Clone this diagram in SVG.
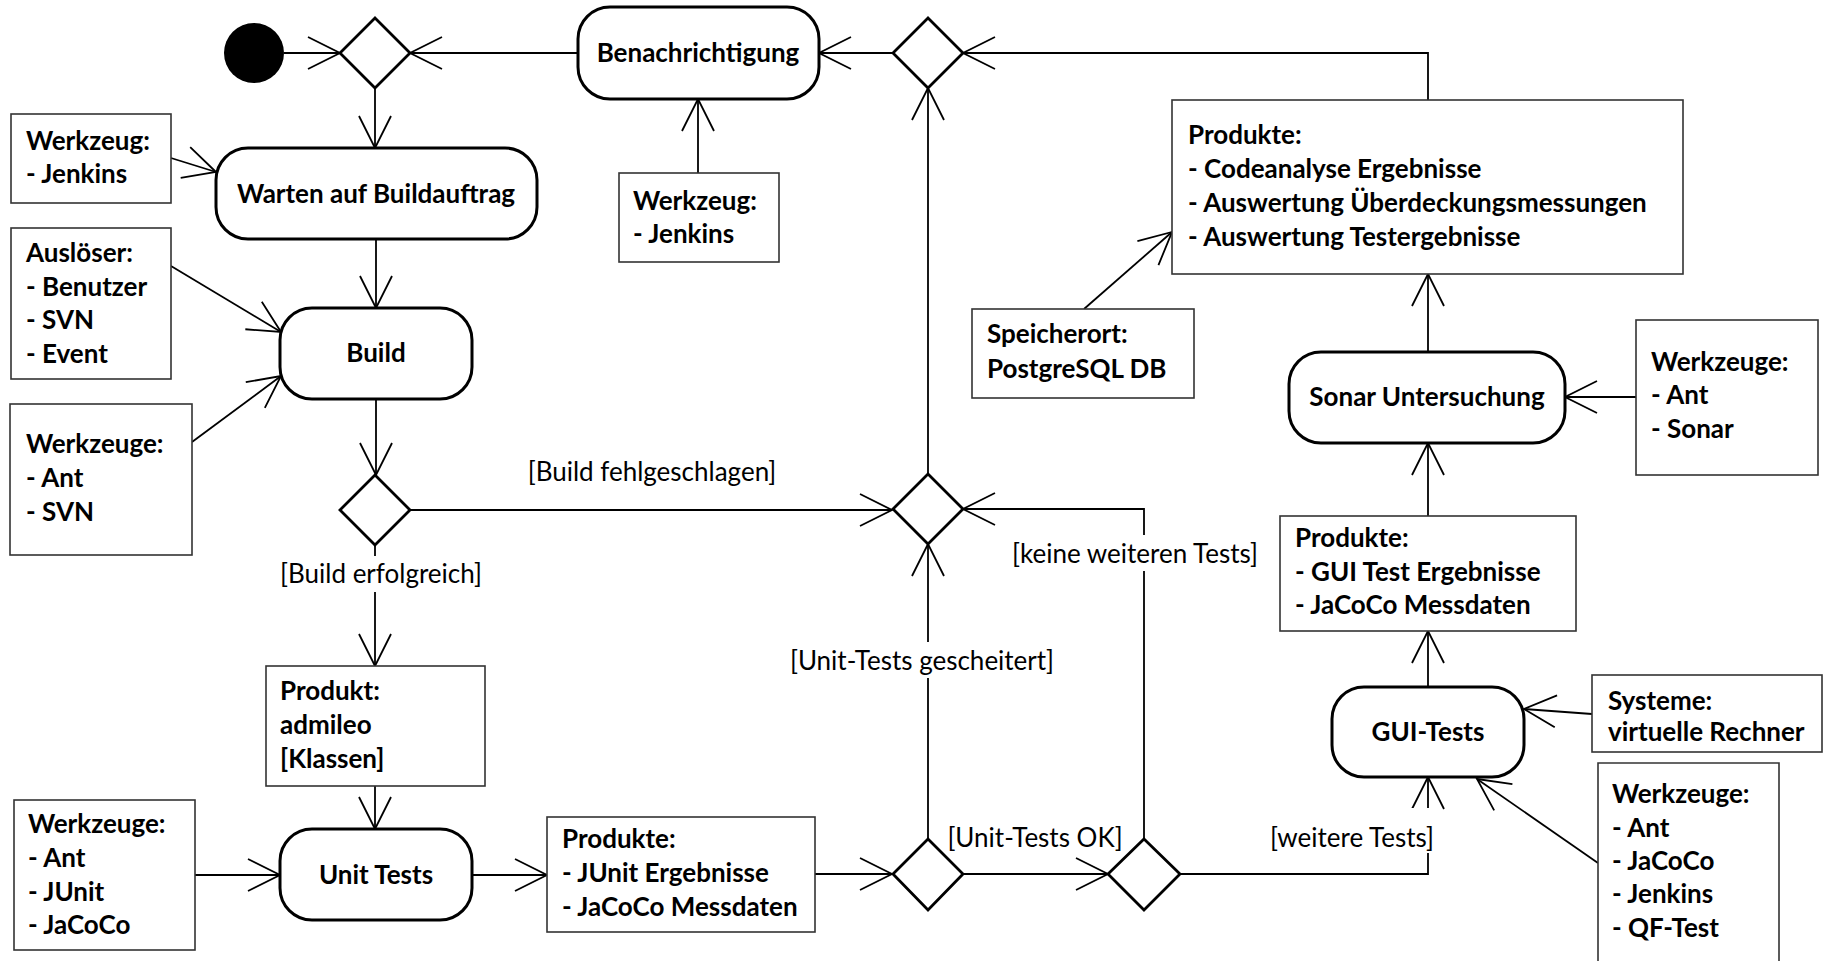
<svg xmlns="http://www.w3.org/2000/svg" width="1828" height="961" viewBox="0 0 1828 961">
  <style>
    text { font-family: Lato, "Liberation Sans", sans-serif; fill: #000; }
    .b { font-weight: bold; font-size: 26px; }
    .c { text-anchor: middle; }
    .lbl { font-size: 26px; text-anchor: middle; }
    .act { fill: #fff; stroke: #000; stroke-width: 3; }
    .note { fill: #fff; stroke: #333; stroke-width: 1.6; }
    .dec { fill: #fff; stroke: #000; stroke-width: 2.8; }
    .edge { fill: none; stroke: #000; stroke-width: 1.8; marker-end: url(#open); }
    .plain { fill: none; stroke: #000; stroke-width: 1.8; }
    .bg { fill: #fff; stroke: none; }
  </style>
  <defs>
    <marker id="open" markerUnits="userSpaceOnUse" viewBox="-36 -20 40 40" markerWidth="40" markerHeight="40" refX="0" refY="0" orient="auto" overflow="visible">
      <path d="M-32,-16 L0,0 L-32,16" fill="none" stroke="#000" stroke-width="1.8"/>
    </marker>
  </defs>

  <rect width="1828" height="961" fill="#fff"/>

  <!-- connectors -->
  <g id="connectors">
    <path class="edge" d="M284,53 L340,53"/>
    <path class="edge" d="M578,53 L410,53"/>
    <path class="edge" d="M375,88 L375,148"/>
    <path class="edge" d="M171,158 L216,172"/>
    <path class="edge" d="M376,239 L376,308"/>
    <path class="edge" d="M171,266 L281,332"/>
    <path class="edge" d="M192,442 L281,376"/>
    <path class="edge" d="M376,399 L376,475"/>
    <path class="edge" d="M375,545 L375,666"/>
    <path class="edge" d="M375,786 L375,829"/>
    <path class="edge" d="M195,875 L280,875"/>
    <path class="edge" d="M472,875 L547,875"/>
    <path class="edge" d="M815,874 L892,874"/>
    <path class="edge" d="M928,839 L928,544"/>
    <path class="edge" d="M410,510 L892,510"/>
    <path class="edge" d="M928,474 L928,88"/>
    <path class="edge" d="M892,53 L819,53"/>
    <path class="edge" d="M1428,100 L1428,53 L963,53"/>
    <path class="edge" d="M698,173 L698,99"/>
    <path class="edge" d="M1084,309 L1172,232"/>
    <path class="edge" d="M963,874 L1108,874"/>
    <path class="edge" d="M1144,839 L1144,509 L963,509"/>
    <path class="edge" d="M1180,874 L1428,874 L1428,777"/>
    <path class="edge" d="M1428,687 L1428,631"/>
    <path class="edge" d="M1428,516 L1428,443"/>
    <path class="edge" d="M1428,352 L1428,274"/>
    <path class="edge" d="M1636,397 L1565,397"/>
    <path class="edge" d="M1592,714 L1524,709"/>
    <path class="edge" d="M1598,863 L1477,779"/>

    <!-- guard labels -->
    <rect class="bg" x="278" y="556" width="208" height="36"/>
    <text class="lbl" x="381" y="583">[Build erfolgreich]</text>
    <text class="lbl" x="652" y="481">[Build fehlgeschlagen]</text>
    <rect class="bg" x="786" y="642" width="272" height="36"/>
    <text class="lbl" x="922" y="670">[Unit-Tests gescheitert]</text>
    <text class="lbl" x="1035" y="847">[Unit-Tests OK]</text>
    <rect class="bg" x="1008" y="535" width="254" height="36"/>
    <text class="lbl" x="1135" y="563">[keine weiteren Tests]</text>
    <rect class="bg" x="1266" y="808" width="172" height="45"/>
    <text class="lbl" x="1352" y="847">[weitere Tests]</text>
  </g>

  <!-- start node -->
  <g id="start">
    <circle cx="254" cy="53" r="30" fill="#000"/>
  </g>

  <!-- decision nodes -->
  <g id="decision-merge-top"><polygon class="dec" points="375,18 410,53 375,88 340,53"/></g>
  <g id="decision-notify"><polygon class="dec" points="928,18 963,53 928,88 893,53"/></g>
  <g id="decision-build"><polygon class="dec" points="375,475 410,510 375,545 340,510"/></g>
  <g id="decision-fail"><polygon class="dec" points="928,474 963,509 928,544 893,509"/></g>
  <g id="decision-unit"><polygon class="dec" points="928,839 963,874 928,910 893,874"/></g>
  <g id="decision-more"><polygon class="dec" points="1144,839 1180,874 1144,910 1108,874"/></g>

  <!-- activities -->
  <g id="benachrichtigung">
    <rect class="act" x="578" y="7" width="241" height="92" rx="32"/>
    <text class="b c" x="698" y="62">Benachrichtigung</text>
  </g>
  <g id="warten">
    <rect class="act" x="216" y="148" width="321" height="91" rx="32"/>
    <text class="b c" x="376" y="203">Warten auf Buildauftrag</text>
  </g>
  <g id="build">
    <rect class="act" x="280" y="308" width="192" height="91" rx="32"/>
    <text class="b c" x="376" y="362">Build</text>
  </g>
  <g id="unit-tests">
    <rect class="act" x="280" y="829" width="192" height="91" rx="32"/>
    <text class="b c" x="376" y="884">Unit Tests</text>
  </g>
  <g id="sonar">
    <rect class="act" x="1289" y="352" width="276" height="91" rx="32"/>
    <text class="b c" x="1427" y="406">Sonar Untersuchung</text>
  </g>
  <g id="gui-tests">
    <rect class="act" x="1332" y="687" width="192" height="90" rx="32"/>
    <text class="b c" x="1428" y="741">GUI-Tests</text>
  </g>

  <!-- notes / objects -->
  <g id="note-werkzeug-jenkins">
    <rect class="note" x="11" y="114" width="160" height="89"/>
    <text class="b" x="26" y="150">Werkzeug:</text>
    <text class="b" x="26" y="183">- Jenkins</text>
  </g>
  <g id="note-ausloeser">
    <rect class="note" x="11" y="228" width="160" height="151"/>
    <text class="b" x="26" y="262">Auslöser:</text>
    <text class="b" x="26" y="296">- Benutzer</text>
    <text class="b" x="26" y="329">- SVN</text>
    <text class="b" x="26" y="363">- Event</text>
  </g>
  <g id="note-werkzeuge-build">
    <rect class="note" x="10" y="404" width="182" height="151"/>
    <text class="b" x="26" y="453">Werkzeuge:</text>
    <text class="b" x="26" y="487">- Ant</text>
    <text class="b" x="26" y="521">- SVN</text>
  </g>
  <g id="note-produkt-admileo">
    <rect class="note" x="266" y="666" width="219" height="120"/>
    <text class="b" x="280" y="700">Produkt:</text>
    <text class="b" x="280" y="734">admileo</text>
    <text class="b" x="280" y="768">[Klassen]</text>
  </g>
  <g id="note-werkzeuge-unit">
    <rect class="note" x="14" y="800" width="181" height="150"/>
    <text class="b" x="28" y="833">Werkzeuge:</text>
    <text class="b" x="28" y="867">- Ant</text>
    <text class="b" x="28" y="901">- JUnit</text>
    <text class="b" x="28" y="934">- JaCoCo</text>
  </g>
  <g id="note-produkte-unit">
    <rect class="note" x="547" y="817" width="268" height="115"/>
    <text class="b" x="562" y="848">Produkte:</text>
    <text class="b" x="562" y="882">- JUnit Ergebnisse</text>
    <text class="b" x="562" y="916">- JaCoCo Messdaten</text>
  </g>
  <g id="note-werkzeug-notify">
    <rect class="note" x="619" y="173" width="160" height="89"/>
    <text class="b" x="633" y="210">Werkzeug:</text>
    <text class="b" x="633" y="243">- Jenkins</text>
  </g>
  <g id="note-produkte-sonar">
    <rect class="note" x="1172" y="100" width="511" height="174"/>
    <text class="b" x="1188" y="144">Produkte:</text>
    <text class="b" x="1188" y="178">- Codeanalyse Ergebnisse</text>
    <text class="b" x="1188" y="212">- Auswertung Überdeckungsmessungen</text>
    <text class="b" x="1188" y="246">- Auswertung Testergebnisse</text>
  </g>
  <g id="note-speicherort">
    <rect class="note" x="972" y="309" width="222" height="89"/>
    <text class="b" x="987" y="343">Speicherort:</text>
    <text class="b" x="987" y="378">PostgreSQL DB</text>
  </g>
  <g id="note-werkzeuge-sonar">
    <rect class="note" x="1636" y="320" width="182" height="155"/>
    <text class="b" x="1651" y="371">Werkzeuge:</text>
    <text class="b" x="1651" y="404">- Ant</text>
    <text class="b" x="1651" y="438">- Sonar</text>
  </g>
  <g id="note-produkte-gui">
    <rect class="note" x="1280" y="516" width="296" height="115"/>
    <text class="b" x="1295" y="547">Produkte:</text>
    <text class="b" x="1295" y="581">- GUI Test Ergebnisse</text>
    <text class="b" x="1295" y="614">- JaCoCo Messdaten</text>
  </g>
  <g id="note-systeme">
    <rect class="note" x="1592" y="675" width="230" height="77"/>
    <text class="b" x="1608" y="710">Systeme:</text>
    <text class="b" x="1608" y="741">virtuelle Rechner</text>
  </g>
  <g id="note-werkzeuge-gui">
    <path class="note" d="M1598,970 L1598,763 L1779,763 L1779,970"/>
    <text class="b" x="1612" y="803">Werkzeuge:</text>
    <text class="b" x="1612" y="837">- Ant</text>
    <text class="b" x="1612" y="870">- JaCoCo</text>
    <text class="b" x="1612" y="903">- Jenkins</text>
    <text class="b" x="1612" y="937">- QF-Test</text>
  </g>
</svg>
